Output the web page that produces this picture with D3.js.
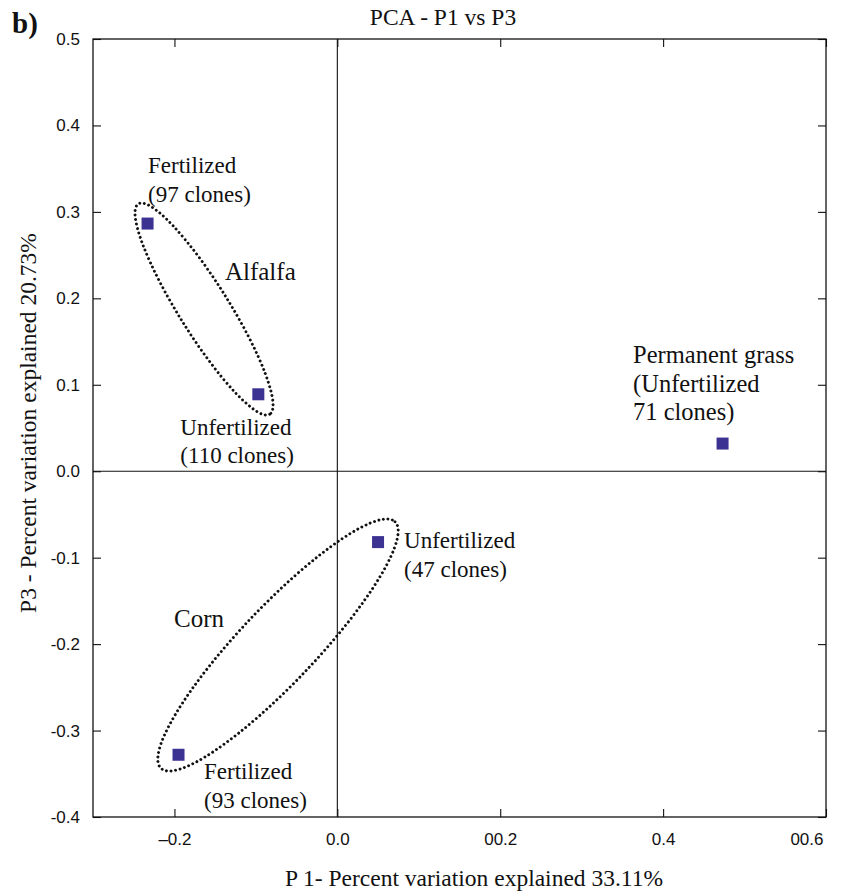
<!DOCTYPE html>
<html>
<head>
<meta charset="utf-8">
<script src="https://cdn.jsdelivr.net/npm/d3@7"></script>
<style>
  body { margin: 0; background: #fff; }
  svg text { fill: #111; }
  .serif, .serif tspan { font-family: "Liberation Serif", "Times New Roman", Times, serif; }
</style>
</head>
<body>
<div id="chart"></div>
<script>
// PCA scores (P1 on x, P3 on y)
const treatments = ["Alfalfa fertilized", "Alfalfa unfertilized", "Permanent grass", "Corn unfertilized", "Corn fertilized"];
const p1Scores = [-0.233, -0.097, 0.473, 0.050, -0.195];
const p3Scores = [0.2865, 0.089, 0.032, -0.082, -0.328];
const pointLabels = [
    ["Fertilized", "(97 clones)"],
    ["Unfertilized", "(110 clones)"],
    ["Permanent grass", "(Unfertilized", "71 clones)"],
    ["Unfertilized", "(47 clones)"],
    ["Fertilized", "(93 clones)"]
];

// crop groups: dotted ellipse drawn along a major axis (data coords), label anchor
const groupNames = ["Alfalfa", "Corn"];
const groupAxisStart = [[-0.2443, 0.3093], [-0.2165, -0.3437]];
const groupAxisEnd = [[-0.083, 0.0659], [0.0708, -0.0584]];
const groupLabelAt = [[-0.138, 0.221], [-0.2005, -0.180]];

// axis ticks
const xTicks = [-0.2, 0.0, 0.2, 0.4, 0.6];
const xTickLabels = ["\u20130.2", "0.0", "00.2", "0.4", "00.6"];
const yTicks = [-0.4, -0.3, -0.2, -0.1, 0.0, 0.1, 0.2, 0.3, 0.4, 0.5];
const yTickLabels = ["-0.4", "-0.3", "-0.2", "-0.1", "0.0", "0.1", "0.2", "0.3", "0.4", "0.5"];

const W = 850, H = 891;
const plot = { left: 93, right: 826, top: 39, bottom: 817 };

const svg = d3.select("#chart").append("svg")
    .attr("width", W)
    .attr("height", H);

const x = d3.scaleLinear().domain([-0.3, 0.6]).range([plot.left, plot.right]);
const y = d3.scaleLinear().domain([-0.4, 0.5]).range([plot.bottom, plot.top]);

const sans = "'Liberation Sans', Arial, Helvetica, sans-serif";

// axes with inward ticks on all four sides
function styleAxis(g) {
    g.select(".domain").remove();
    g.selectAll(".tick line").attr("stroke", "#111").attr("stroke-width", 1.1);
    g.selectAll("text").style("font-family", sans).style("font-size", "17px").attr("fill", "#111");
}

svg.append("g")
    .attr("transform", `translate(0,${plot.bottom})`)
    .call(d3.axisBottom(x).tickValues(xTicks).tickSize(-8).tickPadding(16)
        .tickFormat((d, i) => xTickLabels[i]))
    .call(styleAxis)
    .call(g => g.selectAll(".tick text").filter((d, i) => i === xTicks.length - 1)
        .attr("text-anchor", "end").attr("x", -3));

svg.append("g")
    .attr("transform", `translate(0,${plot.top})`)
    .call(d3.axisTop(x).tickValues(xTicks).tickSize(-8).tickFormat(""))
    .call(styleAxis);

svg.append("g")
    .attr("transform", `translate(${plot.left},0)`)
    .call(d3.axisLeft(y).tickValues(yTicks).tickSize(-8).tickPadding(13)
        .tickFormat((d, i) => yTickLabels[i]))
    .call(styleAxis);

svg.append("g")
    .attr("transform", `translate(${plot.right},0)`)
    .call(d3.axisRight(y).tickValues(yTicks).tickSize(-8).tickFormat(""))
    .call(styleAxis);

// frame
svg.append("rect")
    .attr("x", plot.left)
    .attr("y", plot.top)
    .attr("width", plot.right - plot.left)
    .attr("height", plot.bottom - plot.top)
    .attr("fill", "none")
    .attr("stroke", "#111")
    .attr("stroke-width", 1.3);

// zero lines
svg.append("line")
    .attr("x1", x(0)).attr("x2", x(0))
    .attr("y1", plot.top).attr("y2", plot.bottom)
    .attr("stroke", "#111").attr("stroke-width", 1.1);
svg.append("line")
    .attr("x1", plot.left).attr("x2", plot.right)
    .attr("y1", y(0)).attr("y2", y(0))
    .attr("stroke", "#111").attr("stroke-width", 1.1);

// dotted ellipses around the crop groups
const minorRadius = [25, 38];
groupNames.forEach((name, i) => {
    const x1 = x(groupAxisStart[i][0]), y1 = y(groupAxisStart[i][1]);
    const x2 = x(groupAxisEnd[i][0]), y2 = y(groupAxisEnd[i][1]);
    const cx = (x1 + x2) / 2, cy = (y1 + y2) / 2;
    const rx = Math.hypot(x2 - x1, y2 - y1) / 2;
    const angle = Math.atan2(y2 - y1, x2 - x1) * 180 / Math.PI;

    svg.append("ellipse")
        .attr("cx", cx).attr("cy", cy)
        .attr("rx", rx).attr("ry", minorRadius[i])
        .attr("transform", `rotate(${angle},${cx},${cy})`)
        .attr("fill", "none")
        .attr("stroke", "#111")
        .attr("stroke-width", 2.9)
        .attr("stroke-linecap", "round")
        .attr("stroke-dasharray", "0 4.6");

    svg.append("text")
        .attr("class", "serif")
        .attr("x", x(groupLabelAt[i][0]))
        .attr("y", y(groupLabelAt[i][1]))
        .style("font-size", "25px")
        .text(name);
});

// points
svg.selectAll(".pt")
    .data(treatments)
    .enter()
    .append("rect")
    .attr("class", "pt")
    .attr("x", (d, i) => x(p1Scores[i]) - 6)
    .attr("y", (d, i) => y(p3Scores[i]) - 6)
    .attr("width", 12)
    .attr("height", 12)
    .attr("fill", "#3b3291");

// point labels, offset from each point in pixels
const labelOffset = [[0.5, -50.5], [-78, 40.7], [-89.5, -80.5], [26, 6], [25.5, 24.3]];
const labelSize = ["23px", "23px", "24.5px", "23px", "23px"];
treatments.forEach((t, i) => {
    const txt = svg.append("text")
        .attr("class", "serif")
        .attr("x", x(p1Scores[i]) + labelOffset[i][0])
        .attr("y", y(p3Scores[i]) + labelOffset[i][1])
        .style("font-size", labelSize[i]);
    pointLabels[i].forEach((line, j) => {
        txt.append("tspan")
            .attr("x", x(p1Scores[i]) + labelOffset[i][0])
            .attr("dy", j === 0 ? 0 : 28.5)
            .text(line);
    });
});

// titles
svg.append("text")
    .attr("class", "serif")
    .attr("x", 443).attr("y", 25)
    .attr("text-anchor", "middle")
    .style("font-size", "23.5px")
    .text("PCA - P1 vs P3");

svg.append("text")
    .attr("class", "serif")
    .attr("x", 12).attr("y", 33)
    .style("font-size", "29px")
    .style("font-weight", "bold")
    .text("b)");

svg.append("text")
    .attr("class", "serif")
    .attr("x", 474).attr("y", 886)
    .attr("text-anchor", "middle")
    .style("font-size", "23.5px")
    .text("P 1- Percent variation explained 33.11%");

svg.append("text")
    .attr("class", "serif")
    .attr("transform", "translate(36,423) rotate(-90)")
    .attr("text-anchor", "middle")
    .style("font-size", "23.5px")
    .text("P3 - Percent variation explained 20.73%");
</script>
</body>
</html>
